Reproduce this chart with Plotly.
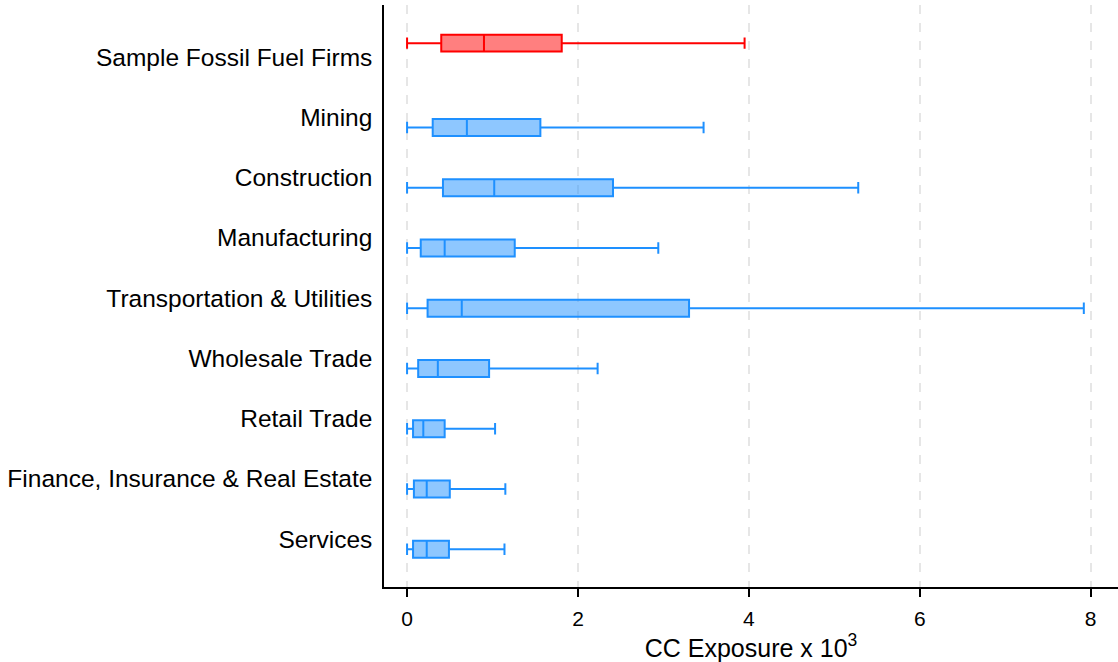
import plotly.graph_objects as go

categories = ["Sample Fossil Fuel Firms", "Mining", "Construction", "Manufacturing",
              "Transportation & Utilities", "Wholesale Trade", "Retail Trade",
              "Finance, Insurance & Real Estate", "Services"]
lower = [0.0, 0.0, 0.0, 0.0, 0.0, 0.0, 0.0, 0.0, 0.0]
q1 = [0.40, 0.30, 0.42, 0.16, 0.24, 0.13, 0.07, 0.08, 0.07]
median = [0.90, 0.70, 1.02, 0.44, 0.64, 0.36, 0.19, 0.23, 0.23]
q3 = [1.81, 1.56, 2.41, 1.26, 3.30, 0.96, 0.44, 0.50, 0.49]
upper = [3.95, 3.47, 5.28, 2.94, 7.92, 2.23, 1.03, 1.15, 1.14]
x_ticks = [0, 2, 4, 6, 8]

# layout: label slots and box offsets relative to them
label_pos = list(range(len(categories)))
box_offset = [-0.23] + [0.17] * (len(categories) - 1)

fig = go.Figure()
for i, name in enumerate(categories):
    if i == 0:
        line_c, fill_c = "#FF0000", "rgba(255,0,0,0.5)"
    else:
        line_c, fill_c = "#1E90FF", "rgba(30,144,255,0.5)"
    fig.add_trace(go.Box(
        y=[label_pos[i] + box_offset[i]],
        q1=[q1[i]], median=[median[i]], q3=[q3[i]],
        lowerfence=[lower[i]], upperfence=[upper[i]],
        orientation="h", name=name, width=0.28, whiskerwidth=0.68,
        line=dict(color=line_c, width=2), fillcolor=fill_c,
        showlegend=False, hoverinfo="skip",
    ))

fig.update_layout(
    width=1118, height=662,
    margin=dict(l=384, r=0, t=5, b=75),
    plot_bgcolor="white", paper_bgcolor="white",
    font=dict(family="Liberation Sans, Arial, sans-serif", color="black"),
)
fig.update_xaxes(
    range=[-0.27, 8.32], tickvals=x_ticks, ticktext=[str(t) for t in x_ticks],
    showgrid=True, gridcolor="#E6E6E6", griddash="dash", gridwidth=1.5,
    zeroline=False, showline=True, linecolor="black", linewidth=1.5,
    ticks="outside", ticklen=8, tickcolor="black", tickwidth=1.5,
    tickfont=dict(size=21), ticklabelstandoff=4, automargin=False,
    title=dict(text="CC Exposure x 10<sup>3</sup>", font=dict(size=25), standoff=16),
)
fig.update_yaxes(
    range=[8.797, -0.863], tickvals=label_pos, ticktext=categories,
    showgrid=False, zeroline=False, showline=True, linecolor="black", linewidth=1.5,
    ticks="", ticklabelstandoff=5, tickfont=dict(size=24.5), automargin=False,
)
fig.write_html("out.html", config={"displayModeBar": False},
               post_script="document.body.style.margin='0';")
